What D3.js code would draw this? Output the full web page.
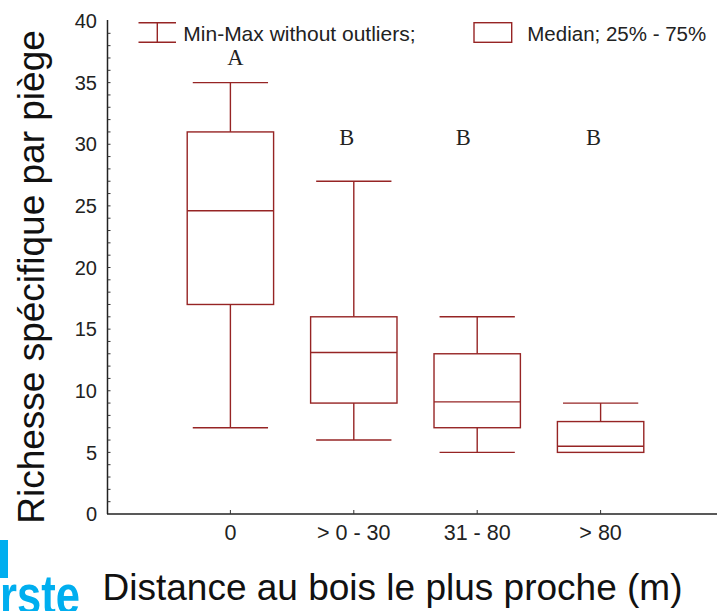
<!DOCTYPE html>
<html>
<head>
<meta charset="utf-8">
<script src="https://cdn.jsdelivr.net/npm/d3@7"></script>
<style>
body { margin: 0; background: #fff; }
text { font-family: "Liberation Sans", Arial, sans-serif; }
</style>
</head>
<body>
<script>
const categories = ["0", "> 0 - 30", "31 - 80", "> 80"];
const mins = [7, 6, 5, 5];
const q1s = [17, 9, 7, 5];
const medians = [24.6, 13.1, 9.1, 5.5];
const q3s = [31, 16, 13, 7.5];
const maxs = [35, 27, 16, 9];
const letters = ["A", "B", "B", "B"];
const yTicks = [0, 5, 10, 15, 20, 25, 30, 35, 40];

// where the group letters sit (value units) and their nudge from the box centre
const letterLevel = [36.4, 29.9, 29.9, 29.9];
const letterDx = [5, -7, -14, -7];

const W = 717, H = 611;
const red = "#962424";

const svg = d3.select("body").append("svg")
.attr("width", W)
.attr("height", H);

const x = d3.scalePoint()
.domain(categories)
.range([107, 724])
.padding(1);

const y = d3.scaleLinear()
.domain([0, 40])
.range([514, 21]);

const step = x.step();
const boxW = step * 0.7;
const capW = step * 0.61;

// axes
svg.append("line")
.attr("x1", 107.5).attr("x2", 107.5)
.attr("y1", y(40) - 1).attr("y2", y(0))
.attr("stroke", "#222").attr("stroke-width", 1.5);

svg.append("line")
.attr("x1", 107).attr("x2", W)
.attr("y1", y(0)).attr("y2", y(0))
.attr("stroke", "#222").attr("stroke-width", 1.5);

svg.selectAll(".minor")
.data(d3.range(1, 40))
.enter()
.append("line")
.attr("x1", 107.5).attr("x2", 110.5)
.attr("y1", d => y(d)).attr("y2", d => y(d))
.attr("stroke", "#333").attr("stroke-width", 1);

svg.selectAll(".ylab")
.data(yTicks)
.enter()
.append("text")
.attr("x", 97)
.attr("y", d => y(d))
.attr("dy", "0.36em")
.attr("text-anchor", "end")
.style("font-size", "20px")
.style("fill", "#222")
.text(d => d);

svg.selectAll(".xtick")
.data(categories)
.enter()
.append("line")
.attr("x1", d => x(d)).attr("x2", d => x(d))
.attr("y1", y(0) - 4).attr("y2", y(0))
.attr("stroke", "#333").attr("stroke-width", 1);

svg.selectAll(".xlab")
.data(categories)
.enter()
.append("text")
.attr("x", d => x(d))
.attr("y", 540)
.attr("text-anchor", "middle")
.style("font-size", "21.5px")
.style("fill", "#222")
.text(d => d);

// boxes
const boxes = categories.map((c, i) => ({
  c: c, min: mins[i], q1: q1s[i], med: medians[i], q3: q3s[i], max: maxs[i]
}));

const g = svg.selectAll(".box")
.data(boxes)
.enter()
.append("g");

g.append("line")
.attr("x1", d => x(d.c)).attr("x2", d => x(d.c))
.attr("y1", d => y(d.max)).attr("y2", d => y(d.q3))
.attr("stroke", red).attr("stroke-width", 1.4);

g.append("line")
.attr("x1", d => x(d.c)).attr("x2", d => x(d.c))
.attr("y1", d => y(d.q1)).attr("y2", d => y(d.min))
.attr("stroke", red).attr("stroke-width", 1.4);

g.append("line")
.attr("x1", d => x(d.c) - capW / 2).attr("x2", d => x(d.c) + capW / 2)
.attr("y1", d => y(d.max)).attr("y2", d => y(d.max))
.attr("stroke", red).attr("stroke-width", 1.4);

g.append("line")
.attr("x1", d => x(d.c) - capW / 2).attr("x2", d => x(d.c) + capW / 2)
.attr("y1", d => y(d.min)).attr("y2", d => y(d.min))
.attr("stroke", red).attr("stroke-width", 1.4);

g.append("rect")
.attr("x", d => x(d.c) - boxW / 2)
.attr("y", d => y(d.q3))
.attr("width", boxW)
.attr("height", d => y(d.q1) - y(d.q3))
.attr("fill", "white")
.attr("stroke", red).attr("stroke-width", 1.4);

g.append("line")
.attr("x1", d => x(d.c) - boxW / 2).attr("x2", d => x(d.c) + boxW / 2)
.attr("y1", d => y(d.med)).attr("y2", d => y(d.med))
.attr("stroke", red).attr("stroke-width", 1.4);

// group letters
svg.selectAll(".letter")
.data(letters)
.enter()
.append("text")
.attr("x", (d, i) => x(categories[i]) + letterDx[i])
.attr("y", (d, i) => y(letterLevel[i]))
.attr("text-anchor", "middle")
.style("font-family", "'Liberation Serif', 'Times New Roman', serif")
.style("font-size", "22.5px")
.style("fill", "#222")
.text(d => d);

// legend
svg.append("line").attr("x1", 138.5).attr("x2", 176).attr("y1", 22.7).attr("y2", 22.7)
.attr("stroke", red).attr("stroke-width", 1.4);
svg.append("line").attr("x1", 138.5).attr("x2", 176).attr("y1", 42.3).attr("y2", 42.3)
.attr("stroke", red).attr("stroke-width", 1.4);
svg.append("line").attr("x1", 157.3).attr("x2", 157.3).attr("y1", 22.7).attr("y2", 42.3)
.attr("stroke", red).attr("stroke-width", 1.4);
svg.append("text").attr("x", 183.3).attr("y", 40.7)
.style("font-size", "21px").style("fill", "#222")
.text("Min-Max without outliers;");

svg.append("rect").attr("x", 474).attr("y", 22.7).attr("width", 37.7).attr("height", 19.6)
.attr("fill", "white").attr("stroke", red).attr("stroke-width", 1.4);
svg.append("text").attr("x", 527.3).attr("y", 40.7)
.style("font-size", "20.5px").style("fill", "#222")
.text("Median; 25% - 75%");

// axis titles
svg.append("text")
.attr("transform", "translate(44,277) rotate(-90)")
.attr("text-anchor", "middle")
.style("font-size", "37px")
.style("fill", "#111")
.text("Richesse spécifique par piège");

svg.append("text")
.attr("x", 392.5)
.attr("y", 600)
.attr("text-anchor", "middle")
.style("font-size", "37px")
.style("fill", "#111")
.text("Distance au bois le plus proche (m)");

// cropped logo in the corner
svg.append("rect")
.attr("x", 0).attr("y", 540)
.attr("width", 8).attr("height", 38)
.attr("fill", "#00AEEF");

svg.append("text")
.attr("x", 0).attr("y", 614)
.attr("textLength", 80)
.attr("lengthAdjust", "spacingAndGlyphs")
.style("font-size", "56px")
.style("font-weight", "bold")
.style("fill", "#00AEEF")
.text("rste");
</script>
</body>
</html>
